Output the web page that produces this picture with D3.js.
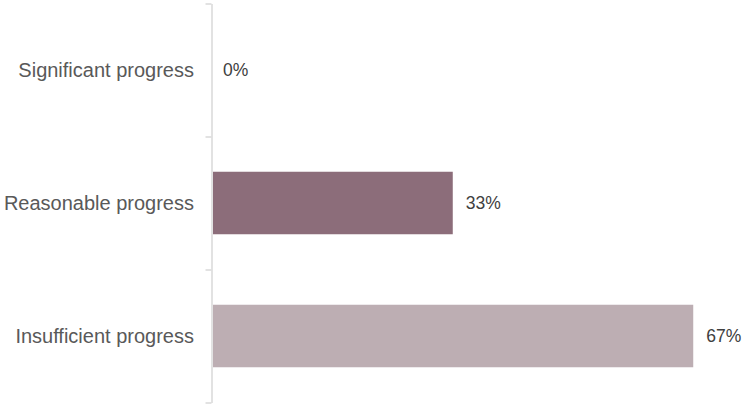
<!DOCTYPE html>
<html><head><meta charset="utf-8">
<script src="https://cdn.jsdelivr.net/npm/d3@7"></script>
<style>body{margin:0;background:#fff}svg{display:block}</style>
</head><body>
<script>
const categories = ["Significant progress", "Reasonable progress", "Insufficient progress"];
const values = [0, 33.3, 66.7];
const colors = ["#8c6d7a", "#8c6d7a", "#bdaeb3"];

const W = 756, H = 416;
const svg = d3.select("body").append("svg").attr("width", W).attr("height", H);
const x0 = 211.5;
const x = d3.scaleLinear().domain([0, 100]).range([x0 + 1.5, x0 + 1.5 + 720]);
const y = d3.scaleBand().domain(categories).range([3.5, 402.5]).paddingInner(0.53).paddingOuter(0.265);

// bars
svg.selectAll("rect.bar").data(categories).enter().append("rect")
  .attr("x", x(0)).attr("y", d => y(d))
  .attr("width", (d, i) => x(values[i]) - x(0))
  .attr("height", y.bandwidth())
  .attr("fill", (d, i) => colors[i]);

// axis: line and ticks at band boundaries
const g = svg.append("g").attr("transform", `translate(${x0},0)`);
const yb = d3.scaleLinear().domain([0, 3]).range([3.5, 402.5]);
const axis = d3.axisLeft(yb).tickValues([0, 1, 2, 3]).tickSize(6).tickSizeOuter(0).tickFormat("");
g.call(axis);
g.select(".domain").attr("stroke", "#d9d9d9").attr("stroke-width", 1.5);
g.selectAll(".tick line").attr("stroke", "#d9d9d9").attr("stroke-width", 1.5);

// category labels
svg.selectAll("text.cat").data(categories).enter().append("text")
  .attr("x", 194).attr("y", d => y(d) + y.bandwidth() / 2)
  .attr("dy", "0.35em").attr("text-anchor", "end")
  .attr("font-family", "Liberation Sans, Arial, sans-serif")
  .attr("font-size", 20).attr("fill", "#595959").text(d => d);

// value labels
svg.selectAll("text.val").data(categories).enter().append("text")
  .attr("x", (d, i) => x(values[i]) + (values[i] === 0 ? 10 : 13))
  .attr("y", d => y(d) + y.bandwidth() / 2)
  .attr("dy", "0.35em")
  .attr("font-family", "Liberation Sans, Arial, sans-serif")
  .attr("font-size", 17.5).attr("fill", "#404040")
  .text((d, i) => Math.round(values[i]) + "%");
</script>
</body></html>
